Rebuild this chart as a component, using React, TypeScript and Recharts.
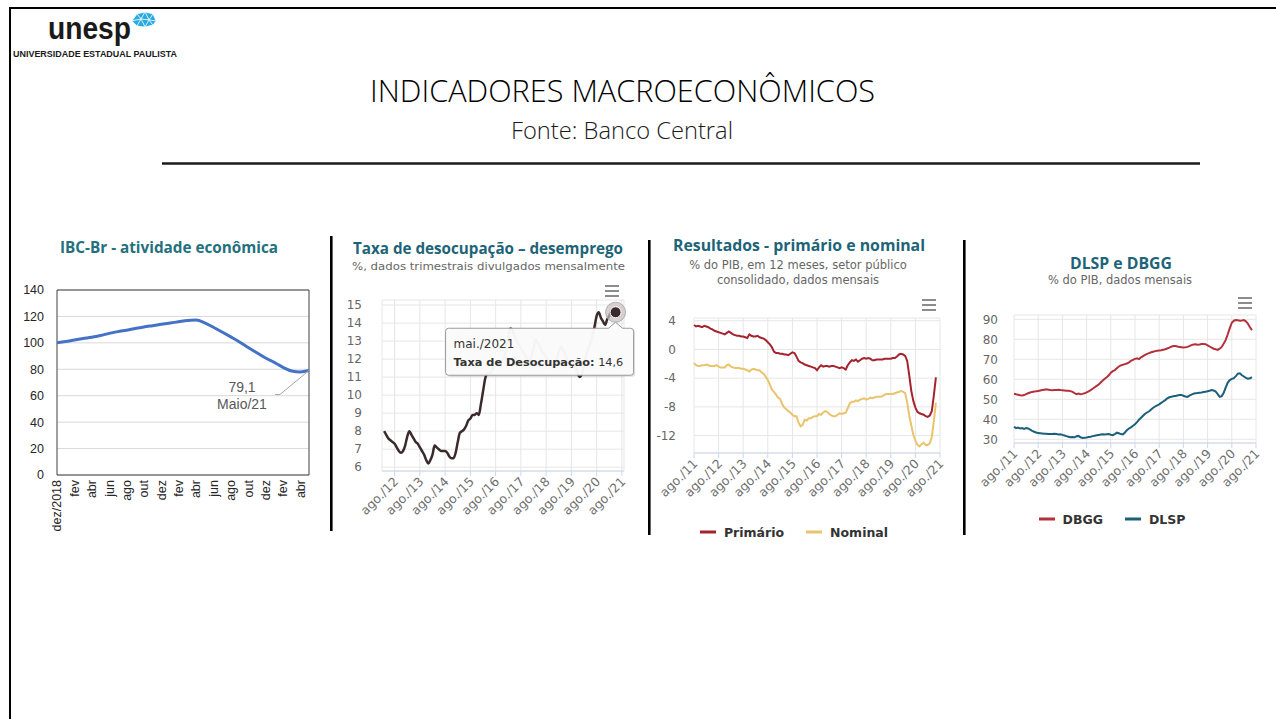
import React from 'react';
import { LineChart, Line, XAxis, YAxis, CartesianGrid, ReferenceArea, Legend, LabelList } from 'recharts';

const FONT_UI = '"DejaVu Sans", "Open Sans", sans-serif';
const FONT_TITLE = '"Open Sans", "Noto Sans", sans-serif';
const FONT_OFFICE = '"Liberation Sans", Arial, sans-serif';
const TEAL = '#1d6478';

// ---------- Chart 1: IBC-Br ----------
const IBC_MONTHS = ['dez/2018', 'jan', 'fev', 'mar', 'abr', 'mai', 'jun', 'jul', 'ago', 'set', 'out', 'nov', 'dez', 'jan', 'fev', 'mar', 'abr', 'mai', 'jun', 'jul', 'ago', 'set', 'out', 'nov', 'dez', 'jan', 'fev', 'mar', 'abr', 'mai'];
const IBC_VALUES = [100, 101, 102.2, 103.3, 104.3, 105.5, 107.2, 108.5, 109.6, 110.8, 112, 113, 114, 115, 116, 117, 117.3, 115.2, 111.8, 108.2, 104.5, 100.7, 96.5, 92.5, 88.5, 85.2, 81.5, 78.7, 78, 79.1];
const IBC_Y_TICKS = [0, 20, 40, 60, 80, 100, 120, 140];
const IBC_NOTE = 'Maio/21';

// ---------- Chart 2: Taxa de desocupação (mar/2012 .. mai/2021) ----------
const DESOC_START_T = 2; // months since jan/2012
const DESOC_VALUES = [
  8.0, 7.8, 7.6, 7.5, 7.4, 7.3, 7.1, 6.9, 6.8, 6.9,
  7.2, 7.7, 8.0, 7.8, 7.6, 7.4, 7.3, 7.1, 6.9, 6.7, 6.4, 6.2,
  6.4, 6.7, 7.2, 7.1, 7.0, 6.9, 6.9, 6.9, 6.8, 6.6, 6.5, 6.5,
  6.8, 7.4, 7.9, 8.0, 8.1, 8.3, 8.6, 8.7, 8.9, 8.9, 9.0, 8.9,
  9.5, 10.2, 10.9, 11.2, 11.2, 11.3, 11.6, 11.8, 11.8, 11.8, 11.9, 12.0,
  12.6, 13.2, 13.7, 13.6, 13.3, 13.0, 12.8, 12.6, 12.4, 12.2, 12.0, 11.8,
  12.2, 12.6, 13.1, 12.9, 12.7, 12.4, 12.3, 12.1, 11.9, 11.7, 11.6, 11.6,
  12.0, 12.4, 12.7, 12.5, 12.3, 12.0, 11.8, 11.8, 11.8, 11.6, 11.2, 11.0,
  11.2, 11.6, 12.2, 12.6, 12.9, 13.3, 13.8, 14.4, 14.6, 14.3, 14.1, 13.9,
  14.2, 14.4, 14.7, 14.7, 14.6,
];
const DESOC_X_LABELS = ['ago./12', 'ago./13', 'ago./14', 'ago./15', 'ago./16', 'ago./17', 'ago./18', 'ago./19', 'ago./20', 'ago./21'];
const DESOC_Y_TICKS = [6, 7, 8, 9, 10, 11, 12, 13, 14, 15];
const MONTH_ABBR = ['jan.', 'fev.', 'mar.', 'abr.', 'mai.', 'jun.', 'jul.', 'ago.', 'set.', 'out.', 'nov.', 'dez.'];

// ---------- Chart 3: Resultados (ago/2011 .. jun/2021) ----------
const PRIMARIO = [
  3.4, 3.2, 3.3, 3.2, 3.1, 3.3, 3.2, 3.1, 2.9, 2.8, 2.6, 2.5,
  2.4, 2.3, 2.2, 2.1, 2.3, 2.5, 2.3, 2.1, 2.0, 1.9, 1.9, 1.8,
  1.8, 1.7, 1.6, 2.1, 1.9, 1.8, 1.8, 1.9, 1.7, 1.6, 1.5, 1.3,
  1.0, 0.7, 0.3, -0.3, -0.5, -0.5, -0.6, -0.6, -0.7, -0.7, -0.8, -0.6,
  -0.4, -0.5, -1.0, -1.6, -1.8, -1.9, -2.1, -2.2, -2.3, -2.4, -2.5, -2.6,
  -2.9, -2.5, -2.2, -2.4, -2.3, -2.3, -2.4, -2.3, -2.3, -2.4, -2.5, -2.6,
  -2.5, -2.6, -2.8, -2.2, -1.8, -1.5, -1.6, -1.4, -1.7, -1.5, -1.3, -1.2,
  -1.3, -1.2, -1.3, -1.5, -1.5, -1.4, -1.4, -1.4, -1.4, -1.3, -1.3, -1.3,
  -1.3, -1.2, -1.2, -1.0, -0.7, -0.6, -0.7, -0.9, -1.6, -3.6, -5.8, -7.2,
  -8.1, -8.7, -8.9, -9.0, -9.1, -9.3, -9.4, -9.2, -8.6, -6.4, -3.9,
];
const NOMINAL = [
  -1.9, -2.2, -2.3, -2.3, -2.2, -2.2, -2.1, -2.2, -2.3, -2.3, -2.3, -2.2,
  -2.4, -2.5, -2.5, -2.5, -2.2, -2.1, -2.4, -2.5, -2.6, -2.6, -2.6, -2.7,
  -2.7, -2.8, -2.9, -3.1, -2.8, -2.7, -2.8, -2.9, -2.9, -3.2, -3.4, -3.8,
  -4.3, -4.9, -5.6, -5.9, -6.3, -6.7, -6.9, -7.6, -8.1, -8.3, -8.6, -8.8,
  -9.1, -9.3, -9.3, -10.2, -10.7, -10.5, -9.8, -9.9, -9.6, -9.6, -9.4, -9.3,
  -9.3, -9.0, -9.1, -8.8, -8.6, -8.7, -9.0, -9.2, -9.3, -9.3, -9.1, -8.9,
  -9.0, -8.9, -8.8, -8.2, -7.5, -7.3, -7.3, -7.1, -7.2, -7.0, -6.9, -6.8,
  -7.0, -6.9, -6.7, -6.8, -6.7, -6.6, -6.6, -6.6, -6.5, -6.3, -6.2, -6.2,
  -6.2, -6.2, -6.1, -6.0, -5.9, -5.8, -5.9, -6.1, -7.4, -9.2, -10.6, -11.9,
  -12.7, -13.3, -13.5, -13.2, -13.0, -13.3, -13.3, -13.1, -12.2, -10.0, -7.4,
];
const FISCAL_X_LABELS = ['ago./11', 'ago./12', 'ago./13', 'ago./14', 'ago./15', 'ago./16', 'ago./17', 'ago./18', 'ago./19', 'ago./20', 'ago./21'];
const RESULT_Y_TICKS = [-12, -8, -4, 0, 4];
const RESULT_SERIES = ['Primário', 'Nominal'];

// ---------- Chart 4: DLSP e DBGG (ago/2011 .. jun/2021) ----------
const DBGG = [
  52.8, 52.5, 52.3, 52.0, 51.9, 52.1, 52.6, 53.0, 53.4, 53.7, 53.9, 54.0,
  54.2, 54.4, 54.6, 54.8, 55.0, 54.8, 54.6, 54.5, 54.6, 54.7, 54.8, 54.6,
  54.5, 54.4, 54.3, 54.3, 54.1, 53.7, 53.1, 52.6, 52.9, 52.5, 52.7, 53.0,
  53.5, 54.0, 54.6, 55.3, 56.0, 56.7, 57.4, 58.4, 59.4, 60.3, 61.0, 62.0,
  63.3, 64.1, 64.6, 65.5, 66.4, 67.0, 67.3, 67.6, 67.9, 68.5, 69.2, 69.7,
  70.2, 70.5, 70.1, 71.0, 71.6, 72.2, 72.7, 73.1, 73.5, 73.8, 74.1, 74.3,
  74.4, 74.5, 74.8, 75.0, 75.4, 75.8, 76.3, 76.6, 76.7, 76.4, 76.1, 76.0,
  75.9, 76.0, 76.2, 76.6, 77.1, 77.4, 77.5, 77.3, 77.4, 77.6, 77.7, 77.6,
  77.0, 76.4, 75.8, 75.3, 75.0, 74.7, 75.3, 76.2, 77.9, 79.7, 82.5, 85.6,
  88.3, 89.3, 89.6, 89.5, 89.3, 89.4, 89.6, 89.0, 87.8, 86.0, 84.6,
];
const DLSP = [
  36.3, 35.6, 35.9, 35.4, 35.6, 35.2, 35.6, 35.4, 34.8, 34.2, 33.8, 33.4,
  33.1, 33.0, 32.9, 32.8, 32.8, 32.7, 32.7, 32.6, 32.8, 32.6, 32.4, 32.5,
  32.2, 31.9, 31.6, 31.3, 31.0, 31.1, 31.0, 31.5, 31.7, 31.0, 30.7, 30.8,
  30.9, 31.1, 31.3, 31.6, 31.8, 32.0, 32.2, 32.4, 32.5, 32.4, 32.5, 32.6,
  32.3, 32.1, 32.6, 33.3, 33.0, 32.6, 32.4, 33.4, 34.6, 35.4, 36.0, 36.8,
  37.5, 38.6, 39.8, 40.8, 41.8, 42.8, 43.4, 44.0, 44.9, 45.8, 46.4, 47.0,
  47.5, 48.2, 48.9, 49.6, 50.5, 51.0, 51.3, 51.5, 51.7, 51.9, 52.1, 52.2,
  51.8, 51.4, 51.2, 51.8, 52.3, 52.8, 53.0, 53.1, 53.3, 53.4, 53.6, 53.8,
  54.0, 54.3, 54.6, 54.4, 53.9, 52.6, 51.2, 51.6, 53.3, 56.0, 58.4, 59.6,
  60.2, 60.6, 61.6, 62.8, 63.0, 62.0, 61.4, 60.7, 60.3, 60.5, 61.1,
];
const DEBT_Y_TICKS = [30, 40, 50, 60, 70, 80, 90];
const DEBT_SERIES = ['DBGG', 'DLSP'];

// ---------- derived tables ----------
const ibcData = IBC_VALUES.map((v, i) => ({ i, v }));
const desocData = DESOC_VALUES.map((v, i) => ({ t: DESOC_START_T + i, v }));
const desocXTicks = DESOC_X_LABELS.map((_, k) => 7 + 12 * k);
const resultData = PRIMARIO.map((p, i) => ({ t: i, p, n: NOMINAL[i] }));
const debtData = DBGG.map((g, i) => ({ t: i, g, l: DLSP[i] }));
const fiscalXTicks = FISCAL_X_LABELS.map((_, k) => 12 * k);

// ---------- renderers ----------
const IbcTick = (props: any) => {
  const { x, y, payload } = props;
  return (
    <text x={x} y={y} transform={`rotate(-90 ${x} ${y})`} textAnchor="end" dy="0.35em"
      fontSize={12.5} fill="#262626" fontFamily={FONT_OFFICE}>
      {IBC_MONTHS[payload.value]}
    </text>
  );
};

const renderIbcLabel = (props: any) => {
  const { x, y, index, value } = props;
  if (index !== IBC_VALUES.length - 1 || x == null) return null;
  return (
    <g>
      <polyline points={`${x},${y} ${x - 29},${y + 24} ${x - 34},${y + 24}`} fill="none" stroke="#a6a6a6" strokeWidth={1} />
      <text x={x - 67} y={y + 22} textAnchor="middle" fontSize={14} fill="#595959" fontFamily={FONT_OFFICE}>
        {String(value).replace('.', ',')}
      </text>
      <text x={x - 67} y={y + 39} textAnchor="middle" fontSize={14} fill="#595959" fontFamily={FONT_OFFICE}>
        {IBC_NOTE}
      </text>
    </g>
  );
};

const makeAgoTick = (ticks: number[], labels: string[]) => (props: any) => {
  const { x, y, payload } = props;
  const k = ticks.indexOf(payload.value);
  return (
    <text x={x} y={y} transform={`rotate(-45 ${x} ${y})`} textAnchor="end" dy="0.5em"
      fontSize={12.5} fill="#707070" fontFamily={FONT_UI}>
      {labels[k]}
    </text>
  );
};
const DesocTick = makeAgoTick(desocXTicks, DESOC_X_LABELS);
const FiscalTick = makeAgoTick(fiscalXTicks, FISCAL_X_LABELS);

const renderDesocDot = (props: any) => {
  const { cx, cy, index, payload } = props;
  if (index !== DESOC_VALUES.length - 1) return <g key={`d-${index}`} />;
  const t = payload.t;
  const label = `${MONTH_ABBR[t % 12]}/${2012 + Math.floor(t / 12)}`;
  const bx = cx - 170, by = cy + 16, bw = 188, bh = 47, r = 3;
  const box = `M${bx + r},${by} L${cx - 7},${by} L${cx},${by - 6} L${cx + 7},${by} L${bx + bw - r},${by} Q${bx + bw},${by} ${bx + bw},${by + r} L${bx + bw},${by + bh - r} Q${bx + bw},${by + bh} ${bx + bw - r},${by + bh} L${bx + r},${by + bh} Q${bx},${by + bh} ${bx},${by + bh - r} L${bx},${by + r} Q${bx},${by} ${bx + r},${by} Z`;
  return (
    <g key="d-last">
      <circle cx={cx} cy={cy} r={10} fill="#c9bfc1" fillOpacity={0.7} stroke="#b5aaac" strokeWidth={1} />
      <circle cx={cx} cy={cy} r={5.5} fill="#3b2a2d" stroke="#ffffff" strokeWidth={1} />
      <path d={box} fill="#000" fillOpacity={0.12} transform="translate(1.5,1.5)" />
      <path d={box} fill="#fbfbfb" fillOpacity={0.97} stroke="#9a9a9a" strokeWidth={1} />
      <text x={bx + 8} y={by + 20} fontSize={12} fill="#333" fontFamily={FONT_UI}>{label}</text>
      <text x={bx + 8} y={by + 38} fontSize={11.3} fill="#333" fontFamily={FONT_UI}>
        <tspan fontWeight="bold">Taxa de Desocupação:</tspan>
        <tspan> {payload.v.toFixed(1).replace('.', ',')}</tspan>
      </text>
    </g>
  );
};

const makeLegend = (order: string[]) => (props: any) => {
  const items = [...(props.payload || [])].sort((a: any, b: any) => order.indexOf(a.value) - order.indexOf(b.value));
  return (
    <div style={{ display: 'flex', justifyContent: 'center', alignItems: 'center', height: 24, gap: 22 }}>
      {items.map((it: any) => (
        <div key={it.value} style={{ display: 'flex', alignItems: 'center' }}>
          <svg width={16} height={4}><line x1={0} y1={2} x2={16} y2={2} stroke={it.color} strokeWidth={3} /></svg>
          <span style={{ marginLeft: 8, fontFamily: FONT_UI, fontWeight: 'bold', fontSize: 12.5, color: '#333' }}>{it.value}</span>
        </div>
      ))}
    </div>
  );
};
const ResultLegend = makeLegend(RESULT_SERIES);
const DebtLegend = makeLegend(DEBT_SERIES);

const Hamburger = ({ x, y }: { x: number; y: number }) => (
  <g stroke="#666" strokeWidth={1.5}>
    <line x1={x} y1={y} x2={x + 14} y2={y} />
    <line x1={x} y1={y + 5} x2={x + 14} y2={y + 5} />
    <line x1={x} y1={y + 10} x2={x + 14} y2={y + 10} />
  </g>
);

const axisTick = { fontSize: 12, fill: '#666', fontFamily: FONT_UI };

export default function App() {
  return (
    <div style={{ position: 'absolute', left: 0, top: 0, width: 1276, height: 719, background: '#fff', overflow: 'hidden' }}>
      {/* Chart 1 */}
      <div style={{ position: 'absolute', left: 10, top: 280 }}>
        <LineChart width={310} height={270} data={ibcData} margin={{ top: 10, right: 11, left: 0, bottom: 0 }}>
          <CartesianGrid vertical={false} stroke="#d9d9d9" />
          <XAxis dataKey="i" type="category" interval={1} height={75} tickLine={false} axisLine={false}
            tickSize={3} tickMargin={2} tick={<IbcTick />} />
          <YAxis domain={[0, 140]} ticks={IBC_Y_TICKS} width={47} axisLine={false} tickLine={false} tickMargin={7}
            tick={{ fontSize: 12.5, fill: '#262626', fontFamily: FONT_OFFICE }} />
          <ReferenceArea y1={0} y2={140} fill="none" stroke="#404040" strokeWidth={1} />
          <Line dataKey="v" type="monotone" stroke="#4472c4" strokeWidth={3} dot={false} isAnimationActive={false}>
            <LabelList dataKey="v" content={renderIbcLabel} />
          </Line>
        </LineChart>
      </div>

      {/* Chart 2 */}
      <div style={{ position: 'absolute', left: 340, top: 290 }}>
        <LineChart width={300} height={240} data={desocData} margin={{ top: 10, right: 16, left: 0, bottom: 0 }}>
          <CartesianGrid stroke="#e6e6e6" />
          <XAxis dataKey="t" type="number" domain={[1, 116]} ticks={desocXTicks} interval={0} height={59}
            axisLine={{ stroke: '#ccd6eb' }} tickLine={{ stroke: '#ccd6eb' }} tickSize={5} tick={<DesocTick />} />
          <YAxis domain={[5.79, 15.28]} ticks={DESOC_Y_TICKS} interval={0} width={42} axisLine={false} tickLine={false}
            tickMargin={14} tick={axisTick} />
          <Line dataKey="v" type="monotone" stroke="#3b2a2d" strokeWidth={2.5} dot={renderDesocDot}
            activeDot={false} isAnimationActive={false} />
        </LineChart>
      </div>

      {/* Chart 3 */}
      <div style={{ position: 'absolute', left: 648, top: 308 }}>
        <LineChart width={300} height={240} data={resultData} margin={{ top: 10, right: 8, left: 0, bottom: 4 }}>
          <CartesianGrid stroke="#e6e6e6" />
          <XAxis dataKey="t" type="number" domain={[0, 120]} ticks={fiscalXTicks} interval={0} height={67}
            axisLine={{ stroke: '#ccd6eb' }} tickLine={{ stroke: '#ccd6eb' }} tickSize={5} tick={<FiscalTick />} />
          <YAxis domain={[-14.43, 4.38]} ticks={RESULT_Y_TICKS} interval={0} width={46} axisLine={false} tickLine={false}
            tickMargin={12} tick={axisTick} />
          <Legend verticalAlign="bottom" content={ResultLegend} wrapperStyle={{ height: 24 }} />
          <Line name="Primário" dataKey="p" stroke="#a5222f" strokeWidth={2} dot={false} isAnimationActive={false} />
          <Line name="Nominal" dataKey="n" stroke="#e9c46c" strokeWidth={2} dot={false} isAnimationActive={false} />
        </LineChart>
      </div>

      {/* Chart 4 */}
      <div style={{ position: 'absolute', left: 968, top: 305 }}>
        <LineChart width={296} height={230} data={debtData} margin={{ top: 10, right: 8, left: 0, bottom: 4 }}>
          <CartesianGrid stroke="#e6e6e6" />
          <XAxis dataKey="t" type="number" domain={[0, 120]} ticks={fiscalXTicks} interval={0} height={64}
            axisLine={{ stroke: '#ccd6eb' }} tickLine={{ stroke: '#ccd6eb' }} tickSize={5} tick={<FiscalTick />} />
          <YAxis domain={[28.15, 92.15]} ticks={DEBT_Y_TICKS} interval={0} width={46} axisLine={false} tickLine={false}
            tickMargin={10} tick={axisTick} />
          <Legend verticalAlign="bottom" content={DebtLegend} wrapperStyle={{ height: 24 }} />
          <Line name="DBGG" dataKey="g" stroke="#b3313c" strokeWidth={2} dot={false} isAnimationActive={false} />
          <Line name="DLSP" dataKey="l" stroke="#1b5f7b" strokeWidth={2} dot={false} isAnimationActive={false} />
        </LineChart>
      </div>

      {/* Slide decorations and texts */}
      <svg width={1276} height={719} style={{ position: 'absolute', left: 0, top: 0, pointerEvents: 'none' }}>
        {/* frame */}
        <line x1={9} y1={8} x2={1276} y2={8} stroke="#000" strokeWidth={2} />
        <line x1={10} y1={7} x2={10} y2={719} stroke="#000" strokeWidth={2} />

        {/* logo */}
        <text x={48} y={39} fontSize={31} fontWeight="bold" fontFamily={FONT_OFFICE} fill="#1a1a1a"
          textLength={83} lengthAdjust="spacingAndGlyphs">unesp</text>
        <g fill="#29a9e0" stroke="#fff" strokeWidth={0.6}>
          <polygon points="137,14 145,12 141,19" />
          <polygon points="145,12 153,14 149,20" />
          <polygon points="141,19 145,12 149,20" />
          <polygon points="132,21 137,14 141,19" />
          <polygon points="141,19 149,20 145,27" />
          <polygon points="132,21 141,19 137,26" />
          <polygon points="137,26 141,19 145,27" />
          <polygon points="149,20 153,14 156,21" />
          <polygon points="145,27 149,20 153,25" />
          <polygon points="149,20 156,21 153,25" />
        </g>
        <text x={13} y={56.5} fontSize={8.5} fontWeight="bold" fontFamily={FONT_OFFICE} fill="#1a1a1a"
          textLength={164} lengthAdjust="spacingAndGlyphs">UNIVERSIDADE ESTADUAL PAULISTA</text>

        {/* slide title */}
        <text x={370} y={102} fontSize={31} fontWeight={300} fontFamily={FONT_TITLE} fill="#000"
          textLength={505} lengthAdjust="spacingAndGlyphs">INDICADORES MACROECONÔMICOS</text>
        <text x={511} y={139} fontSize={23} fontWeight={300} fontFamily={FONT_TITLE} fill="#1a1a1a"
          textLength={222} lengthAdjust="spacingAndGlyphs">Fonte: Banco Central</text>
        <line x1={162} y1={163.5} x2={1200} y2={163.5} stroke="#1a1a1a" strokeWidth={2.5} />

        {/* separators */}
        <rect x={330} y={236} width={2.6} height={295} fill="#000" />
        <rect x={648} y={240} width={2.6} height={295} fill="#000" />
        <rect x={963} y={240} width={2.6} height={295} fill="#000" />

        {/* chart titles */}
        <text x={60} y={253} fontSize={16} fontWeight={700} fontFamily={FONT_TITLE} fill="#24707e"
          textLength={218} lengthAdjust="spacingAndGlyphs">IBC-Br - atividade econômica</text>

        <text x={353} y={254} fontSize={16} fontWeight={700} fontFamily={FONT_TITLE} fill={TEAL}
          textLength={270} lengthAdjust="spacingAndGlyphs">Taxa de desocupação – desemprego</text>
        <text x={352} y={270} fontSize={11} fontFamily={FONT_UI} fill="#666"
          textLength={273} lengthAdjust="spacingAndGlyphs">%, dados trimestrais divulgados mensalmente</text>
        <Hamburger x={605} y={286} />

        <text x={673} y={251} fontSize={16} fontWeight={700} fontFamily={FONT_TITLE} fill={TEAL}
          textLength={252} lengthAdjust="spacingAndGlyphs">Resultados - primário e nominal</text>
        <text x={798} y={269} fontSize={11.5} fontFamily={FONT_UI} fill="#666" textAnchor="middle">% do PIB, em 12 meses, setor público</text>
        <text x={798} y={284} fontSize={11.5} fontFamily={FONT_UI} fill="#666" textAnchor="middle">consolidado, dados mensais</text>
        <Hamburger x={922} y={300} />

        <text x={1070} y={269} fontSize={16} fontWeight={700} fontFamily={FONT_TITLE} fill={TEAL}
          textLength={102} lengthAdjust="spacingAndGlyphs">DLSP e DBGG</text>
        <text x={1120} y={284} fontSize={11.5} fontFamily={FONT_UI} fill="#666" textAnchor="middle">% do PIB, dados mensais</text>
        <Hamburger x={1238} y={298} />
      </svg>
    </div>
  );
}
